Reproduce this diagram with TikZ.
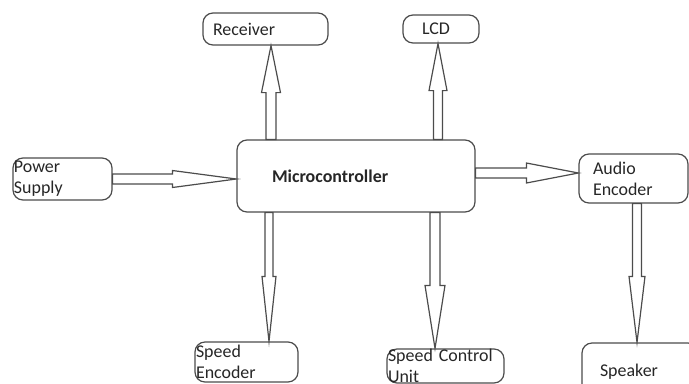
\documentclass[tikz,border=0pt]{standalone}
\usepackage{fontspec}
\setmainfont{Carlito}
\usetikzlibrary{calc}

% hollow block arrow: start, tip, shaft half width, head half width, head length
\newcommand{\blockarr}[5]{%
  \coordinate (s) at (#1);
  \coordinate (t) at (#2);
  \coordinate (hb) at ($(t)!#5bp!(s)$);
  \draw[arr] ($(s)!#3bp!90:(t)$) -- ($(hb)!#3bp!-90:(s)$) -- ($(hb)!#4bp!-90:(s)$) -- (t)
    -- ($(hb)!#4bp!90:(s)$) -- ($(hb)!#3bp!90:(s)$) -- ($(s)!#3bp!-90:(t)$) -- cycle;
}

\begin{document}
\begin{tikzpicture}[x=1bp,y=-1bp,
    font=\fontsize{18}{21}\selectfont,
    box/.style={draw=gray!60!black, line width=1.2bp, rounded corners=10bp,
      align=left, inner ysep=0bp, text=black!85},
    arr/.style={draw=gray!60!black, line width=1.2bp, fill=white, line join=miter}]
  \useasboundingbox (0,0) rectangle (689,383);
  \clip (0,0) rectangle (689,383);

  \node[box, inner xsep=10bp, text width=105bp, minimum height=32bp] (rcv) at (265.5,29) {Receiver};
  \node[box, inner xsep=19bp, text width=38bp, minimum height=28bp] (lcd) at (441,29) {LCD};
  \node[box, inner xsep=1bp, text width=97bp, minimum height=42bp] (pwr) at (62.5,179) {Power\\Supply};
  \node[box, inner xsep=35bp, text width=168bp, minimum height=72bp] (mc) at (356,176) {\textbf{Microcontroller}};
  \node[box, inner xsep=14bp, text width=81bp, minimum height=49bp] (aud) at (633.5,178.5) {Audio\\Encoder};
  \node[box, inner xsep=1bp, text width=101bp, minimum height=40bp] (spe) at (246.5,362) {Speed\\Encoder};
  \node[box, inner xsep=1bp, text width=115bp, minimum height=34bp] (scu) at (445.5,366) {Speed Control\\Unit};
  \node[box, inner xsep=18bp, text width=80bp, minimum height=58bp] (spk) at (640,372) {Speaker};

  \blockarr{271,0 |- mc.north}{271,0 |- rcv.south}{5}{9.5}{47}
  \blockarr{438,0 |- mc.north}{438,0 |- lcd.south}{4.5}{9}{47}
  \blockarr{pwr.east}{mc.west |- pwr.east}{5}{8.5}{64}
  \blockarr{mc.east |- 0,173}{aud.west |- 0,173}{5}{10}{52}
  \blockarr{269,0 |- mc.south}{269,0 |- spe.north}{4}{7}{65}
  \blockarr{435,0 |- mc.south}{435,0 |- scu.north}{5}{10}{63}
  \blockarr{637,0 |- aud.south}{637,0 |- spk.north}{4.5}{8}{66}
\end{tikzpicture}
\end{document}
